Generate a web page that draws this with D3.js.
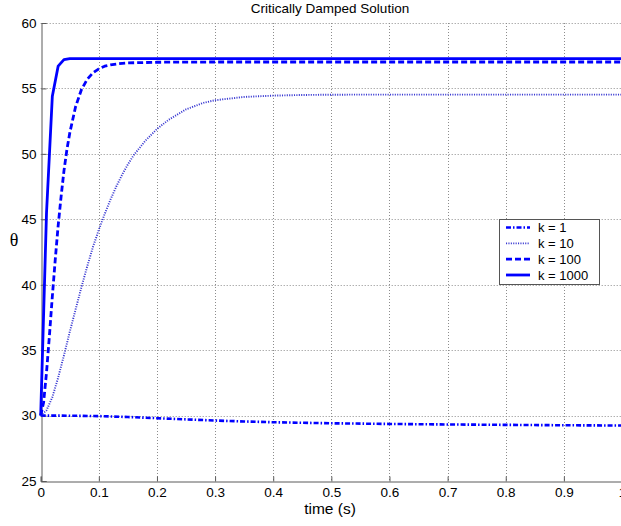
<!DOCTYPE html>
<html>
<head>
<meta charset="utf-8">
<script src="https://cdn.jsdelivr.net/npm/d3@7"></script>
<style>
  html, body { margin: 0; padding: 0; background: #fff; overflow: hidden; }
  svg { display: block; font-family: "Liberation Sans", Arial, sans-serif; }
</style>
</head>
<body>
<svg id="chart" width="621" height="526"></svg>
<script>
// Angle response theta(t) for four stiffness values k
const timeK1 = [0, 0.05, 0.1, 0.15, 0.2, 0.25, 0.3, 0.35, 0.4, 0.5, 0.6, 0.7, 0.8, 0.9, 1.0];
const thetaK1 = [30, 29.99, 29.96, 29.89, 29.8, 29.71, 29.62, 29.55, 29.49, 29.41, 29.36, 29.32, 29.29, 29.26, 29.24];

const timeK10 = [0, 0.01, 0.02, 0.03, 0.04, 0.05, 0.06, 0.07, 0.08, 0.09, 0.1, 0.11, 0.12, 0.13, 0.14, 0.15, 0.16, 0.18, 0.2, 0.22, 0.25, 0.28, 0.3, 0.35, 0.4, 0.45, 0.5, 0.6, 0.8, 1.0];
const thetaK10 = [30, 30.4, 31.4, 32.9, 34.6, 36.4, 38.1, 39.8, 41.4, 42.9, 44.2, 45.4, 46.5, 47.5, 48.4, 49.2, 49.9, 51.0, 51.9, 52.6, 53.4, 53.9, 54.1, 54.35, 54.45, 54.5, 54.52, 54.53, 54.53, 54.53];

const timeK100 = [0, 0.005, 0.01, 0.015, 0.02, 0.025, 0.03, 0.035, 0.04, 0.045, 0.05, 0.06, 0.07, 0.08, 0.09, 0.1, 0.11, 0.12, 0.135, 0.15, 0.2, 0.3, 1.0];
const thetaK100 = [30, 31.0, 33.3, 36.1, 39.1, 41.9, 44.5, 46.7, 48.7, 50.3, 51.6, 53.6, 54.9, 55.7, 56.2, 56.5, 56.7, 56.8, 56.9, 56.95, 57.0, 57.02, 57.02];

const timeK1000 = [0, 0.01, 0.02, 0.03, 0.04, 0.05, 1.0];
const thetaK1000 = [30, 45.5, 54.4, 56.7, 57.2, 57.28, 57.28];

const seriesNames = ["k = 1", "k = 10", "k = 100", "k = 1000"];

const xTicks = [0, 0.1, 0.2, 0.3, 0.4, 0.5, 0.6, 0.7, 0.8, 0.9, 1];
const yTicks = [25, 30, 35, 40, 45, 50, 55, 60];

const titleText = "Critically Damped Solution";
const xLabelText = "time (s)";
const yLabelText = "\u03B8";

// Line styles per series
const styles = [
  { color: "#0000ff", width: 2.6, dash: "5,2,1.5,2" },
  { color: "#3a3ad2", width: 1.9, dash: "1.1,1.3" },
  { color: "#0000ff", width: 2.8, dash: "6,3" },
  { color: "#0000ff", width: 2.8, dash: null }
];

const series = [
  { t: timeK1, v: thetaK1 },
  { t: timeK10, v: thetaK10 },
  { t: timeK100, v: thetaK100 },
  { t: timeK1000, v: thetaK1000 }
].map((s, i) => ({ name: seriesNames[i], style: styles[i], pts: s.t.map((t, j) => [t, s.v[j]]) }));

const svg = d3.select("#chart");
const plot = { left: 40.7, top: 23, right: 622, bottom: 481 };

const x = d3.scaleLinear().domain([0, 1]).range([plot.left, plot.right]);
const y = d3.scaleLinear().domain([25, 60]).range([plot.bottom, plot.top]);

svg.append("rect").attr("width", 621).attr("height", 526).attr("fill", "#fff");

// Dotted grid
const grid = svg.append("g").attr("stroke", "#8c8c8c").attr("stroke-width", 1).attr("stroke-dasharray", "1,2");
grid.selectAll("line.gx").data(xTicks.filter(d => d > 0)).join("line")
  .attr("x1", d => Math.round(x(d)) + 0.5).attr("x2", d => Math.round(x(d)) + 0.5)
  .attr("y1", plot.top).attr("y2", plot.bottom);
grid.selectAll("line.gy").data(yTicks.filter(d => d > 25)).join("line")
  .attr("y1", d => Math.round(y(d)) + 0.5).attr("y2", d => Math.round(y(d)) + 0.5)
  .attr("x1", plot.left).attr("x2", plot.right);

// Axes with inward ticks
const xAxis = d3.axisBottom(x).tickValues(xTicks).tickSize(-5).tickPadding(6)
  .tickFormat(d => d === 0 ? "0" : d === 1 ? "1" : d3.format(".1f")(d));
const yAxis = d3.axisLeft(y).tickValues(yTicks).tickSize(-5).tickPadding(5).tickFormat(d3.format("d"));

const gx = svg.append("g").attr("transform", `translate(0,${Math.round(plot.bottom) + 0.5})`).call(xAxis);
const gy = svg.append("g").attr("transform", `translate(${Math.round(plot.left) + 0.5},0)`).call(yAxis);
[gx, gy].forEach(g => {
  g.select(".domain").attr("stroke", "#5a5a5a").attr("stroke-width", 1);
  g.selectAll(".tick line").attr("stroke", "#5a5a5a");
  g.selectAll(".tick text").attr("fill", "#000").style("font-size", "13.5px")
    .style("font-family", "'Liberation Sans', Arial, sans-serif");
});
gx.selectAll(".tick text").attr("dy", "0.71em");

// Curves
const line = d3.line().x(d => x(d[0])).y(d => y(d[1])).curve(d3.curveLinear);
const curves = svg.append("g").attr("fill", "none");
series.forEach(s => {
  curves.append("path")
    .attr("d", line(s.pts))
    .attr("stroke", s.style.color)
    .attr("stroke-width", s.style.width)
    .attr("stroke-dasharray", s.style.dash)
    .attr("stroke-linejoin", "round");
});

// Title and axis labels
svg.append("text").attr("x", 330).attr("y", 13).attr("text-anchor", "middle")
  .style("font-size", "13.5px").text(titleText);
svg.append("text").attr("x", 330).attr("y", 514).attr("text-anchor", "middle")
  .style("font-size", "15.5px").text(xLabelText);
svg.append("text").attr("x", 14).attr("y", 246).attr("text-anchor", "middle")
  .style("font-family", "'Liberation Serif', 'DejaVu Serif', serif").style("font-size", "18px").text(yLabelText);

// Legend
const legend = svg.append("g");
legend.append("rect").attr("x", 499.5).attr("y", 219.5).attr("width", 100).attr("height", 65)
  .attr("fill", "#fff").attr("stroke", "#555").attr("stroke-width", 1);
const rowY = d3.scaleLinear().domain([0, 3]).range([227.5, 275]);
series.forEach((s, i) => {
  legend.append("line")
    .attr("x1", 506).attr("x2", 530).attr("y1", rowY(i)).attr("y2", rowY(i))
    .attr("stroke", s.style.color).attr("stroke-width", s.style.width)
    .attr("stroke-dasharray", s.style.dash);
  legend.append("text").attr("x", 538).attr("y", rowY(i)).attr("dy", "0.36em")
    .style("font-size", "13px").text(s.name);
});
</script>
</body>
</html>
